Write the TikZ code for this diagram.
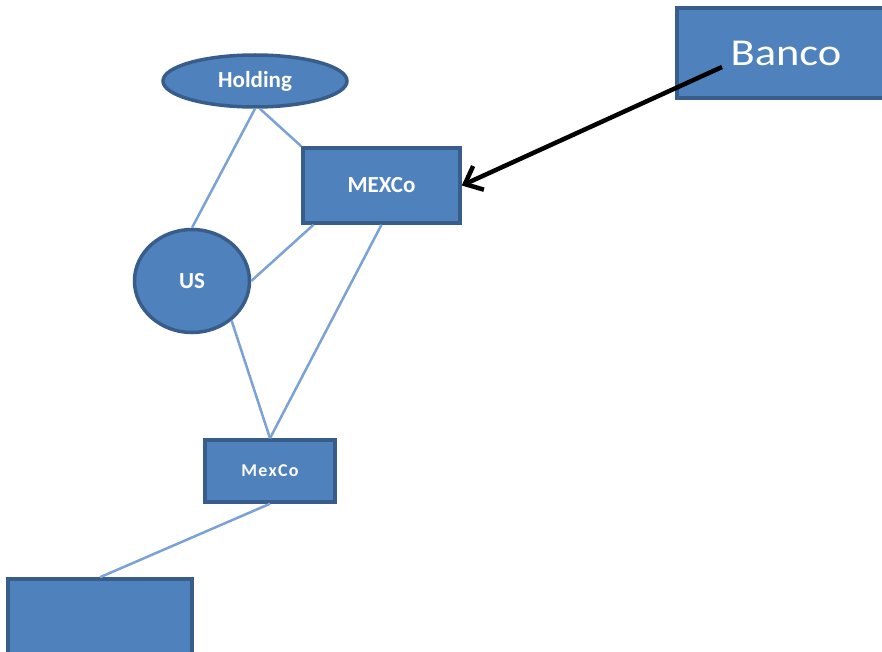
\documentclass[tikz,border=0pt]{standalone}
\usepackage{fontspec}
\setmainfont{Carlito}
\newfontfamily\widefont[FakeStretch=1.17]{Carlito}
\definecolor{boxblue}{RGB}{79, 129, 189}
\definecolor{edgeblue}{RGB}{56, 93, 138}
\definecolor{linkblue}{RGB}{124, 162, 212}
\usetikzlibrary{arrows.meta,positioning,shapes}

\begin{document}
\begin{tikzpicture}[x=1pt, y=-1pt,
    entity/.style={draw=edgeblue, fill=boxblue, line width=3.5pt, text=white,
        inner sep=0pt, font=\bfseries\fontsize{23}{26}\selectfont},
    owner/.style={entity, ellipse},
    link/.style={linkblue, line width=2.5pt}]
    \useasboundingbox (0,0) rectangle (882,652);

    % Entities
    \node[owner, minimum width=184pt, minimum height=52pt] (holding) at (255,81) {Holding};
    \node[entity, minimum width=157pt, minimum height=75pt] (mexco) at (381.5,185.5) {MEXCo};
    \node[owner, minimum width=115pt, minimum height=103pt] (us) at (192,281) {US};
    \node[entity, minimum width=130pt, minimum height=62pt,
        font=\bfseries\fontsize{18}{20}\selectfont] (mexsub) at (270,471)
        {M\kern1.2pt e\kern1.2pt x\kern1.2pt C\kern1.2pt o};
    \node[entity, minimum width=184pt, minimum height=84pt] (blank) at (100,621) {};
    \node[entity, minimum width=218pt, minimum height=90pt,
        font=\widefont\fontsize{38}{42}\selectfont] (banco) at (786,53) {Banco};

    % Ownership links
    \draw[link] (holding.south) -- (us.north);
    \draw[link] (holding.-80) -- (mexco.north west);
    \draw[link] (mexco.210) -- (us.east);
    \draw[link] (mexco.south) -- (mexsub.north);
    \draw[link] (us.-45) -- (mexsub.north);
    \draw[link] (mexsub.south) -- (blank.north);

    % Loan
    \coordinate (loan) at (722,67);
    \draw[line width=4.5pt, -{Straight Barb[length=15pt, width=26pt]}] (loan) -- (mexco.east);
\end{tikzpicture}
\end{document}
